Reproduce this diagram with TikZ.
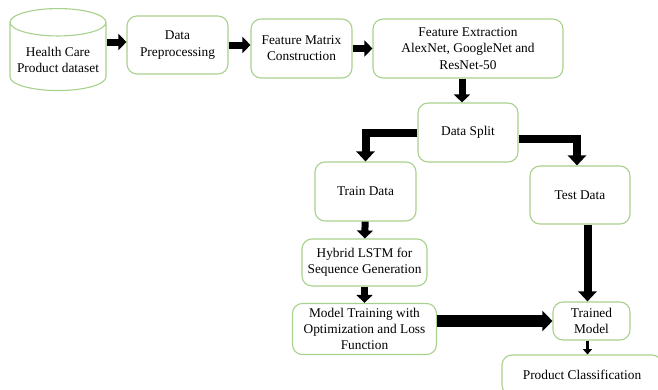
\documentclass[tikz,border=0pt]{standalone}
\usepackage{fontspec}
\setmainfont{Liberation Serif}
\usetikzlibrary{shapes.geometric, arrows.meta}
\definecolor{boxGreen}{HTML}{A9D18E}
\tikzstyle{boxNode} = [rectangle, rounded corners=0.25cm, draw=boxGreen, line width=0.8pt, text centered, align=center, font=\fontsize{9.5}{11.5}\selectfont]
\tikzstyle{dbNode} = [cylinder, shape border rotate=90, aspect=0.3, draw=boxGreen, line width=0.8pt, minimum width=2.4cm, minimum height=2.05cm, text centered, align=center, font=\fontsize{9.5}{11.5}\selectfont]
\tikzstyle{arrow} = [line width=0.175cm, -{Triangle[width=0.4cm,length=0.2cm]}]
\tikzstyle{splitArrow} = [line width=0.2cm, -{Triangle[width=0.45cm,length=0.25cm]}]
\tikzstyle{wideArrow} = [line width=0.28cm, -{Triangle[width=0.5cm,length=0.25cm]}]
\tikzstyle{thinArrow} = [line width=0.08cm, -{Triangle[width=0.22cm,length=0.13cm]}]

\begin{document}
\begin{tikzpicture}[node distance=2cm]
        \clip (0,0) rectangle (16.45,-9.725);
        \node (hc) [dbNode, anchor=north] at (1.45,-0.2) {Health Care\\Product dataset};
        \node (dp) [boxNode, minimum width=2.525cm, minimum height=1.45cm] at (4.4375,-1.125) {Data\\Preprocessing};
        \node (fm) [boxNode, minimum width=2.525cm, minimum height=1.475cm, right of=dp, xshift=1.1cm, yshift=-0.0875cm] {Feature Matrix\\Construction};
        \node (fe) [boxNode, minimum width=4.75cm, minimum height=1.475cm, right of=fm, xshift=2.1625cm] {Feature Extraction\\AlexNet, GoogleNet and\\ResNet-50};
        \node (ds) [boxNode, minimum width=2.5cm, minimum height=1.475cm, below of=fe, yshift=-0.1cm] {Data Split};
        \node (train) [boxNode, minimum width=2.525cm, minimum height=1.475cm, below of=ds, xshift=-2.5625cm, yshift=0.525cm] {Train Data};
        \node (test) [boxNode, minimum width=2.5cm, minimum height=1.45cm, below of=ds, xshift=2.8cm, yshift=0.4375cm] {Test Data};
        \node (hyb) [boxNode, minimum width=3.125cm, minimum height=1.175cm, below of=train, xshift=-0.025cm, yshift=0.225cm] {Hybrid LSTM for\\Sequence Generation};
        \node (model) [boxNode, minimum width=3.6cm, minimum height=1.2cm, below of=hyb, yshift=0.3375cm] {Model Training with\\Optimization and Loss\\Function};
        \node (trained) [boxNode, minimum width=1.925cm, minimum height=0.95cm, below of=test, xshift=0.2875cm, yshift=-1.15cm] {Trained\\Model};
        \node (prod) [boxNode, minimum width=4cm, minimum height=1cm, below of=trained, xshift=-0.2375cm, yshift=0.65cm] {Product Classification};

        \draw [arrow] ([yshift=0.075cm]hc.east |- dp.west) -- ([yshift=0.075cm]dp.west);
        \draw [arrow] (dp.east) -- (dp.east -| fm.west);
        \draw [arrow] (fm.east) -- (fm.east -| fe.west);
        \draw [arrow] ([xshift=-0.15cm]fe.south) -- ([xshift=-0.15cm]ds.north);
        \draw [splitArrow] (ds.west) -| (train.north);
        \draw [splitArrow] ([yshift=-0.15cm]ds.east) -| ([xshift=-0.075cm]test.north);
        \draw [arrow] (train) -- (hyb);
        \draw [arrow] (hyb) -- (model);
        \draw [wideArrow] (model.east |- trained.west) -- (trained.west);
        \draw [splitArrow] ([xshift=-0.1cm]trained.north |- test.south) -- ([xshift=-0.1cm]trained.north);
        \draw [thinArrow] ([xshift=-0.1cm]trained.south) -- ([xshift=-0.1cm]trained.south |- prod.north);
    \end{tikzpicture}
\end{document}
